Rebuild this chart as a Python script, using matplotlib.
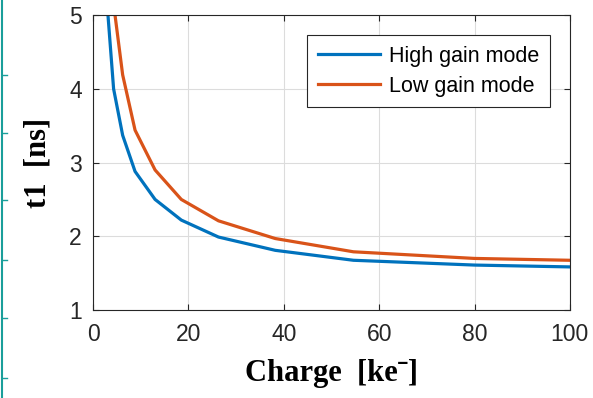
import matplotlib
matplotlib.use("Agg")
import matplotlib.pyplot as plt
from matplotlib.lines import Line2D

# charge [ke-] and t1 [ns]
charge = [2.1, 3.0, 4.3, 6.2, 8.8, 13, 18.5, 26.3, 38.2, 54.6, 80, 100]
t1_high = [7.0, 5.1, 4.0, 3.37, 2.88, 2.5, 2.22, 1.99, 1.81, 1.675, 1.61, 1.585]
t1_low = [9.0, 6.5, 5.15, 4.19, 3.44, 2.9, 2.5, 2.21, 1.97, 1.79, 1.70, 1.675]
labels = ["High gain mode", "Low gain mode"]

blue = "#0072BD"
orange = "#D95319"

plt.rcParams["font.family"] = ["Liberation Sans", "DejaVu Sans"]

fig = plt.figure(figsize=(5.93, 3.98), dpi=100)
ax = fig.add_axes([0.157, 0.221, 0.804, 0.741])

ax.plot(charge, t1_high, color=blue, lw=2.3, label=labels[0])
ax.plot(charge, t1_low, color=orange, lw=2.3, label=labels[1])

ax.set_xlim(0, 100)
ax.set_ylim(1, 5)
ax.set_xticks([0, 20, 40, 60, 80, 100])
ax.set_yticks([1, 2, 3, 4, 5])
ax.grid(True, color="#dcdcdc", lw=0.8)
ax.set_axisbelow(True)
ax.tick_params(direction="in", top=True, right=True, length=4, width=0.8,
               labelsize=16.5, colors="#262626")
ax.tick_params(axis="x", pad=9)
ax.tick_params(axis="y", pad=8)
for s in ax.spines.values():
    s.set_color("#262626")
    s.set_linewidth(0.8)

serif = ["Liberation Serif", "DejaVu Serif"]
ax.set_xlabel("Charge  [ke\u02c9]", fontsize=22, fontweight="bold",
              family=serif, labelpad=10)
ax.set_ylabel("t1  [ns]", fontsize=22, fontweight="bold",
              family=serif, labelpad=12)

leg = ax.legend(loc="upper right", bbox_to_anchor=(0.958, 0.932), fontsize=15.5,
                fancybox=False, framealpha=1, edgecolor="#262626",
                handlelength=2.9, handletextpad=0.4, borderpad=0.5,
                labelspacing=0.4, borderaxespad=0)
leg.get_frame().set_linewidth(0.8)

# teal page border at the left edge
teal = "#1a9e9a"
fig.add_artist(Line2D([0.004, 0.004], [0, 1], color=teal, lw=1.5,
                      transform=fig.transFigure))
for yy in [75, 133, 200, 260, 318, 378]:
    fig.add_artist(Line2D([0.004, 0.012], [1 - yy / 398] * 2, color=teal,
                          lw=1.0, transform=fig.transFigure))

fig.savefig("out.png", dpi=100)
